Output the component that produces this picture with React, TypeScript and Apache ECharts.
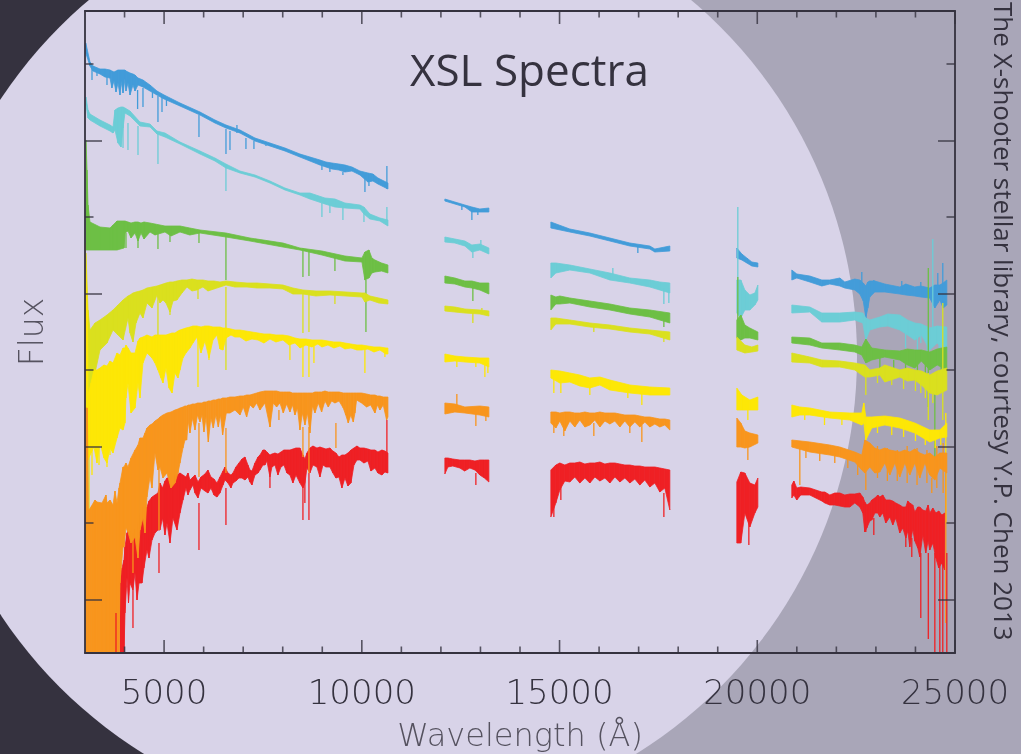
import React, { useEffect, useRef } from "react";
import * as echarts from "echarts";

type Row = number[];

const xMajor = [5000, 10000, 15000, 20000, 25000];
const xMinor = [4000, 6000, 7000, 8000, 9000, 11000, 12000, 13000, 14000, 16000, 17000, 18000, 19000, 21000, 22000, 23000, 24000];
const yMajor = [53, 206, 359, 512];
const yMinor = [130, 283, 436, 589];

// Each row: wavelength, upper flux, lower flux of the spectrum band
const blueBand: Row[][] = [
  [[3020,610,600],[3126,591,587],[3202,587,582],[3379,584,579],[3506,584,576],[3632,583,575],[3680,582,565],[3733,581,572],[3784,582,561],[3834,583,570],[3885,583,558],[3910,583,572],[3961,583,560],[4011,583,574],[4036,582,562],[4087,581,570],[4138,580,558],[4213,579,568],[4264,578,562],[4340,575,568],[4466,573,566],[4643,568,562],[4820,562,558],[5000,558,554],[5402,550,547],[5908,541,538],[6286,533,530],[6565,528,525],[6919,523,520],[7298,515,512],[7677,510,507],[8056,505,502],[8435,499,496],[8688,496,492],[8941,493,488],[9093,491,486],[9244,490,484],[9421,489,483],[9573,488,481],[9750,486,482],[9952,482,478],[10154,480,471],[10280,479,472],[10407,475,469],[10660,470,464]],
  [[12100,454,452],[12353,451,449],[12606,448,446],[12783,446,441],[12985,444,441],[13213,445,441]],
  [[14780,431,425],[15260,424,421],[15766,420,417],[16272,415,412],[16777,410,407],[17283,407,404],[17410,404,401],[17789,407,402]],
  [[19483,405,395],[19610,399,393],[19736,395,390],[19863,391,387],[20015,390,386]],
  [[20873,383,373],[21000,379,375],[21328,377,371],[21632,373,367],[21834,373,369],[22087,375,367],[22213,371,365],[22466,374,363],[22593,373,359],[22680,370,352],[22745,367,335],[22796,371,345],[22846,372,356],[22973,372,361],[23225,369,361],[23604,366,359],[23755,369,358],[23983,366,357],[24135,367,356],[24362,365,355],[24490,368,345],[24616,368,353],[24700,370,345],[24793,373,348]],
];
// Each row: wavelength, flux at one end and flux at the other end of a narrow line
const blueLines: Row[] = [[3177,587,573],[3303,582,577],[3556,578,568],[4330,563,544],[4466,565,546],[4706,561,555],[4845,557,531],[4947,556,541],[5060,553,547],[5882,538,516],[6565,524,499],[6666,522,503],[6842,520,528],[7070,515,504],[7272,512,504],[7576,508,507],[8991,488,483],[9193,485,481],[9522,481,478],[10079,478,461],[10180,474,467],[10634,487,464],[12530,447,443],[12783,441,433],[12934,442,438],[16980,407,400],[22643,381,365],[22947,373,362],[23654,372,360],[24135,371,358],[24565,380,350],[24691,390,350]];

const cyanBand: Row[][] = [
  [[3025,556,548],[3076,543,535],[3126,539,533],[3379,533,527],[3632,528,522],[3708,526,520],[3758,543,523],[3834,545,510],[3910,546,506],[3961,546,525],[4011,545,540],[4138,542,537],[4390,531,527],[4643,529,526],[4820,522,519],[5022,520,516],[5402,511,509],[5908,502,499],[6286,495,492],[6564,489,485],[6918,482,480],[7298,478,476],[7677,472,470],[8056,465,463],[8435,460,458],[8688,460,454],[9067,455,449],[9320,454,446],[9573,450,445],[9952,448,444],[10053,446,439],[10205,439,434],[10458,435,432],[10660,433,427]],
  [[12100,416,411],[12353,414,410],[12606,412,407],[12783,408,401],[12985,409,403],[13213,405,399]],
  [[14780,390,375],[14906,390,380],[15260,388,383],[15766,384,380],[16272,380,373],[16777,375,370],[17283,373,366],[17536,371,363],[17789,370,360]],
  [[19483,373,340],[19584,373,335],[19686,363,343],[19812,358,343],[19939,360,348],[20015,368,353]],
  [[20873,348,340],[21328,346,341],[21632,340,331],[22087,340,331],[22466,341,333],[22669,340,330],[22745,335,313],[22846,333,323],[23098,336,326],[23300,339,327],[23604,338,323],[23800,333,318],[23983,330,313],[24150,329,318],[24362,325,303],[24550,327,310],[24793,326,300]],
];
const cyanLines: Row[] = [[3961,530,505],[4087,530,503],[4340,527,498],[4845,520,489],[6564,486,462],[8991,450,436],[9193,449,440],[9522,447,433],[10054,440,431],[10634,446,428],[12808,405,395],[13010,413,403],[16348,385,375],[17638,365,349],[17764,365,350],[19508,446,373],[23750,320,305],[24050,316,300],[24135,325,310],[24300,310,295],[24438,414,323],[24600,310,290]];

const greenBand: Row[][] = [
  [[3025,513,403],[3051,483,403],[3076,448,403],[3126,431,403],[3379,426,403],[3632,425,403],[3708,428,403],[3809,432,403],[3986,432,405],[4011,432,420],[4088,431,422],[4164,430,415],[4264,431,420],[4340,431,412],[4416,430,420],[4492,431,414],[4643,430,421],[4770,429,418],[5022,427,421],[5175,427,417],[5402,427,421],[5650,425,418],[5908,423,420],[6564,420,416],[7171,415,412],[8005,410,406],[8435,405,403],[8991,402,398],[9573,397,392],[10003,395,391],[10078,401,373],[10180,403,375],[10255,395,380],[10331,393,381],[10500,390,382],[10660,388,380]],
  [[12100,377,370],[12353,375,369],[12606,372,366],[12783,372,365],[12985,370,363],[13213,370,359]],
  [[14780,358,343],[14906,356,349],[15007,357,349],[15260,355,350],[15766,352,346],[16272,349,343],[16777,345,339],[17283,343,336],[17789,340,330]],
  [[19483,333,315],[19584,338,313],[19686,328,315],[19812,325,315],[20015,321,313]],
  [[20873,316,310],[21328,315,308],[21632,310,305],[22087,310,303],[22466,308,301],[22643,306,298],[22745,314,290],[22896,305,293],[23225,303,296],[23604,302,293],[23800,304,288],[23983,303,285],[24150,303,292],[24362,301,283],[24550,304,288],[24793,306,283]],
];
const greenLines: Row[] = [[4036,420,405],[4340,420,405],[4845,421,404],[5149,421,411],[5882,421,410],[6564,418,373],[8511,405,376],[8663,403,377],[9320,398,382],[10104,373,321],[12808,365,352],[17638,335,326],[19508,376,320],[23100,295,285],[23450,293,283],[23750,290,278],[24050,288,272],[24250,288,268],[24325,385,246],[24490,263,193],[24650,290,262]];

const limeBand: Row[][] = [
  [[3025,400,253],[3076,343,258],[3126,323,266],[3253,330,280],[3379,333,303],[3556,338,310],[3708,343,323],[3834,348,318],[3961,353,313],[4087,357,335],[4138,358,320],[4213,360,311],[4290,361,330],[4390,362,340],[4466,363,335],[4567,365,350],[4694,366,345],[4820,367,358],[4896,368,350],[4972,369,353],[5048,370,350],[5149,371,341],[5225,371,352],[5326,372,353],[5452,373,360],[5579,373,366],[5705,374,362],[5831,373,363],[5983,373,366],[6109,372,362],[6261,372,364],[6413,371,366],[6565,372,368],[6792,371,366],[7095,370,366],[7350,370,365],[7677,369,365],[8005,368,364],[8258,365,359],[8511,363,359],[8840,362,357],[9193,362,358],[9600,361,357],[10003,360,356],[10078,360,351],[10205,357,353],[10430,355,350],[10660,353,349]],
  [[12100,347,342],[12353,346,341],[12606,344,340],[12985,343,339],[13213,342,337]],
  [[14780,335,323],[14906,335,329],[15260,333,329],[15766,330,326],[16272,328,324],[16777,325,321],[17283,323,319],[17789,321,313]],
  [[19483,316,303],[19686,308,300],[19863,306,301],[20015,308,302]],
  [[20873,300,291],[21328,296,290],[21632,293,286],[22087,292,286],[22466,290,283],[22720,288,276],[22846,283,276],[23098,285,278],[23225,288,271],[23604,283,276],[23800,285,272],[23983,283,273],[24150,282,268],[24362,278,260],[24550,282,258],[24793,285,263]],
];
const limeLines: Row[] = [[3101,300,113],[4845,358,318],[5149,345,338],[5857,365,354],[6564,366,283],[8511,359,320],[8663,359,321],[9320,358,349],[12808,340,330],[13036,345,340],[15867,328,321],[17638,321,311],[22745,280,258],[23040,280,270],[23400,278,268],[23700,277,264],[24000,275,262],[24135,280,260],[24250,270,255],[24325,280,233],[24440,275,250],[24691,350,233]];

const yellowBand: Row[][] = [
  [[3005,410,200],[3060,340,195],[3076,258,193],[3151,270,200],[3228,283,206],[3303,283,190],[3379,285,210],[3480,288,195],[3556,287,190],[3632,292,205],[3708,290,200],[3809,300,215],[3885,298,225],[3961,305,223],[4011,305,230],[4036,308,255],[4087,305,270],[4163,300,240],[4264,300,245],[4340,312,270],[4390,315,255],[4466,316,290],[4567,318,300],[4694,316,295],[4770,318,290],[4845,318,283],[4921,318,275],[4972,318,270],[5048,318,285],[5124,319,265],[5200,320,260],[5275,320,280],[5351,322,275],[5402,323,283],[5477,324,295],[5553,325,300],[5654,326,305],[5730,327,310],[5831,327,316],[5933,326,300],[6033,327,312],[6135,327,295],[6236,326,313],[6337,326,318],[6413,326,304],[6489,325,303],[6565,325,315],[6691,324,318],[6792,323,316],[6918,323,316],[7070,322,312],[7222,321,314],[7374,320,313],[7525,319,310],[7677,319,314],[7828,318,311],[8005,318,313],[8157,317,308],[8309,315,310],[8435,314,305],[8587,314,308],[8738,313,306],[8890,313,309],[8991,313,306],[9143,312,308],[9294,311,305],[9446,311,307],[9573,310,304],[9725,309,305],[9877,308,303],[10003,308,303],[10154,307,304],[10306,306,301],[10458,306,303],[10610,305,299],[10660,305,299]],
  [[12100,299,291],[12353,297,292],[12606,296,291],[12985,295,290],[13213,295,286]],
  [[14780,283,275],[15007,282,270],[15260,280,271],[15513,278,267],[15766,275,265],[16020,276,268],[16272,273,263],[16777,268,260],[17283,266,258],[17789,265,258]],
  [[19483,265,243],[19610,258,243],[19812,253,243],[20015,256,243]],
  [[20873,248,236],[21076,246,238],[21328,245,238],[21834,241,235],[22340,240,233],[22643,240,228],[22694,250,230],[22745,236,213],[22896,236,225],[23225,237,228],[23604,235,225],[23983,230,220],[24362,223,211],[24616,223,215],[24793,230,216]],
];
const yellowLines: Row[] = [[3177,210,178],[3354,210,188],[3556,210,186],[3632,210,198],[5857,320,266],[6135,325,293],[8182,316,293],[8511,312,276],[8663,312,276],[8789,312,290],[10078,306,280],[10584,305,296],[12403,294,286],[12884,294,286],[13112,290,276],[13188,290,280],[14856,278,260],[15033,275,260],[15766,270,258],[16727,265,255],[17081,262,248],[19762,245,233],[21200,240,233],[21700,236,228],[22140,235,228],[23040,232,220],[23400,232,218],[23700,228,216],[24000,225,212],[24250,222,208],[24500,220,205],[24640,222,208],[24767,240,130]];

const redBand: Row[][] = [
  [[3885,70,0],[3935,85,0],[3986,93,0],[4011,106,40],[4062,120,75],[4100,123,50],[4138,120,70],[4213,125,63],[4264,123,80],[4315,123,53],[4366,135,70],[4441,146,70],[4490,140,85],[4567,146,103],[4618,152,95],[4694,156,113],[4769,158,120],[4845,160,123],[4896,170,123],[4960,165,135],[5022,172,118],[5073,175,130],[5149,175,110],[5225,177,135],[5326,178,123],[5402,180,140],[5477,178,153],[5553,176,165],[5604,180,158],[5654,173,163],[5730,176,168],[5781,178,160],[5857,171,155],[5933,176,165],[6033,179,162],[6109,183,160],[6185,176,165],[6261,174,158],[6337,170,156],[6413,176,160],[6489,182,168],[6539,186,173],[6615,180,170],[6690,178,165],[6741,180,170],[6817,186,172],[6893,190,175],[6969,194,175],[7045,196,173],[7120,188,176],[7171,183,171],[7222,182,168],[7298,190,178],[7374,196,180],[7424,198,183],[7500,203,188],[7550,203,188],[7601,201,192],[7677,198,176],[7727,199,186],[7803,200,188],[7879,199,178],[7955,201,186],[8030,203,188],[8106,203,180],[8182,203,178],[8258,204,170],[8334,205,178],[8435,205,170],[8511,198,165],[8562,194,170],[8612,200,185],[8688,205,180],[8764,207,188],[8865,205,186],[8941,206,176],[9017,205,188],[9093,204,186],[9193,205,186],[9269,202,180],[9345,200,175],[9421,196,176],[9497,198,165],[9573,198,175],[9649,200,167],[9725,203,170],[9801,205,188],[9877,207,193],[9952,205,193],[10053,205,190],[10154,204,192],[10230,203,182],[10331,203,185],[10407,201,180],[10508,203,178],[10584,202,181],[10660,200,180]],
  [[12100,195,179],[12176,195,186],[12300,194,187],[12479,193,185],[12600,193,182],[12732,193,185],[12860,192,183],[12985,193,178],[13100,193,175],[13213,193,171]],
  [[14780,183,136],[14906,188,150],[15007,190,163],[15133,188,172],[15260,190,171],[15386,190,176],[15513,191,170],[15640,189,175],[15766,190,170],[15893,190,176],[16020,191,172],[16146,189,175],[16272,190,170],[16399,190,176],[16525,189,171],[16651,188,175],[16777,188,170],[16904,187,174],[17030,187,168],[17157,186,173],[17283,186,166],[17410,186,170],[17536,185,161],[17662,184,165],[17789,183,143]],
  [[19483,171,110],[19584,181,110],[19686,180,140],[19812,170,126],[19939,168,140],[20015,175,146]],
  [[20873,168,155],[20925,172,158],[20999,165,153],[21100,166,158],[21328,165,158],[21480,163,155],[21632,161,152],[21708,161,150],[21834,158,148],[21960,160,148],[22087,160,147],[22213,158,146],[22340,159,146],[22466,159,150],[22593,160,146],[22669,156,140],[22720,151,121],[22770,148,125],[22846,150,132],[22896,153,133],[22973,155,140],[23048,158,140],[23098,156,136],[23174,158,140],[23250,153,130],[23352,153,136],[23427,152,128],[23503,150,135],[23604,148,120],[23680,146,125],[23756,146,115],[23806,152,122],[23857,150,106],[23932,148,124],[23983,141,112],[24059,146,105],[24110,146,96],[24185,143,118],[24260,142,100],[24320,148,112],[24362,140,103],[24440,145,110],[24515,140,95],[24590,142,85],[24666,138,90],[24742,140,83]],
];
const redLines: Row[] = [[3784,40,0],[4213,63,25],[4871,110,80],[5882,150,103],[6564,165,128],[7677,176,165],[8511,175,133],[8663,180,133],[8560,170,150],[10634,233,180],[12884,180,168],[14856,160,136],[15033,170,153],[17638,160,136],[19559,130,110],[19787,140,108],[22745,125,121],[22947,135,118],[23756,122,106],[23907,115,96],[24135,100,35],[24325,100,14],[24490,100,0],[24616,100,0],[24691,100,0],[24793,100,0]];

const orangeBand: Row[][] = [
  [[3005,245,0],[3060,245,0],[3085,143,0],[3101,143,0],[3165,147,0],[3253,153,0],[3303,151,0],[3430,150,0],[3530,158,0],[3556,150,0],[3632,153,0],[3708,148,0],[3758,162,0],[3809,150,0],[3860,165,0],[3885,170,70],[3961,186,106],[3986,186,106],[4036,190,125],[4087,186,121],[4163,195,110],[4264,203,116],[4340,208,95],[4390,215,123],[4466,215,135],[4517,220,120],[4567,225,156],[4643,228,176],[4694,229,165],[4769,232,200],[4845,234,183],[4896,236,186],[4972,238,175],[5073,240,180],[5174,241,165],[5275,243,170],[5351,244,180],[5402,245,190],[5477,246,205],[5528,247,213],[5570,247,213],[5612,248,232],[5654,248,220],[5718,249,235],[5781,249,223],[5844,250,238],[5907,250,231],[5958,250,238],[6008,251,221],[6063,251,236],[6118,252,211],[6181,252,235],[6244,253,225],[6308,253,238],[6371,254,226],[6425,254,238],[6480,255,218],[6573,255,240],[6666,256,240],[6792,256,243],[6918,257,238],[7003,257,246],[7087,258,236],[7171,258,248],[7256,259,245],[7340,260,250],[7424,261,243],[7550,262,250],[7677,262,226],[7761,262,250],[7845,262,246],[7930,261,250],[8014,261,240],[8098,261,249],[8182,261,241],[8246,260,248],[8309,260,238],[8372,260,245],[8435,260,223],[8498,260,240],[8562,260,228],[8625,260,240],[8688,260,220],[8752,260,247],[8815,261,240],[8899,261,250],[8983,261,241],[9068,262,252],[9152,261,246],[9236,261,252],[9320,261,250],[9425,261,252],[9531,260,245],[9594,260,238],[9657,260,230],[9720,260,238],[9784,260,231],[9826,260,240],[9868,260,253],[9994,260,250],[10120,259,246],[10225,258,248],[10331,258,240],[10395,257,248],[10458,257,243],[10542,256,248],[10626,256,233],[10660,256,236]],
  [[12100,250,239],[12353,249,241],[12606,246,240],[12985,247,238],[13213,246,236]],
  [[14780,241,230],[14906,241,225],[15007,240,232],[15133,241,222],[15260,241,232],[15386,240,226],[15513,240,233],[15640,241,226],[15766,240,228],[15893,240,233],[16020,241,226],[16146,240,232],[16272,240,229],[16399,240,232],[16525,239,226],[16651,238,232],[16777,238,226],[16904,238,231],[17030,237,226],[17157,236,231],[17283,236,226],[17410,235,229],[17536,234,226],[17662,234,228],[17789,233,223]],
  [[19483,235,206],[19584,230,206],[19686,222,205],[19812,220,206],[20015,218,210]],
  [[20873,213,206],[21328,211,201],[21834,208,198],[22087,206,196],[22466,201,191],[22643,198,183],[22720,213,180],[22846,210,186],[22973,205,180],[23098,203,181],[23225,205,190],[23352,203,178],[23478,202,190],[23604,201,176],[23730,203,190],[23857,201,178],[23983,204,190],[24110,200,175],[24236,198,190],[24362,200,178],[24490,196,173],[24616,200,185],[24793,200,180]],
];
const orangeLines: Row[] = [[4213,120,80],[4871,186,123],[5882,230,176],[6564,225,180],[7677,240,226],[7904,243,233],[8511,226,196],[8663,226,180],[9345,230,205],[12403,259,245],[12884,240,227],[13137,240,232],[14856,232,220],[15108,232,217],[15867,230,217],[16777,228,220],[17081,228,211],[19762,208,193],[21076,206,168],[21230,205,195],[21580,204,192],[21960,200,190],[22290,200,185],[22540,195,178],[22745,182,163],[23040,207,175],[23290,205,172],[23540,203,172],[23790,207,170],[24040,205,168],[24290,203,170],[24413,175,160],[24540,207,165],[24700,210,160],[24767,200,30]];

const palette = {
  blue: "#439cd9",
  cyan: "#6ccdd6",
  green: "#6dbf45",
  lime: "#dae01e",
  yellow: "#fde706",
  red: "#ef2024",
  orange: "#f8951d",
};

const ink = "#35323f";
const tickInk = "rgba(53,50,63,0.8)";
const thinFont = "'DejaVu Sans'";

function bandSeries(segs: Row[][], color: string) {
  const rows = segs.flatMap((s, k) => s.map((r) => [...r, k]));
  return {
    type: "custom",
    silent: true,
    clip: true,
    encode: { x: 0, y: 1 },
    data: rows,
    renderItem: (p: any, api: any) => {
      const a = rows[p.dataIndex];
      const b = rows[p.dataIndex + 1];
      if (!b || b[3] !== a[3]) return null;
      const pts = [
        api.coord([a[0], a[1]]),
        api.coord([b[0], b[1]]),
        api.coord([b[0], b[2]]),
        api.coord([a[0], a[2]]),
      ];
      return { type: "polygon", shape: { points: pts }, style: { fill: color, stroke: color, lineWidth: 0.8 } };
    },
  };
}

function lineSeries(rows: Row[], color: string) {
  return {
    type: "custom",
    silent: true,
    clip: true,
    encode: { x: 0, y: 1 },
    data: rows,
    renderItem: (p: any, api: any) => {
      const r = rows[p.dataIndex];
      const a = api.coord([r[0], r[1]]);
      const b = api.coord([r[0], r[2]]);
      return { type: "line", shape: { x1: a[0], y1: a[1], x2: b[0], y2: b[1] }, style: { stroke: color, lineWidth: 1.3 } };
    },
  };
}

// Inward tick marks on all four sides of the frame, placed by the axis scales.
function tickSeries(values: number[], dim: "x" | "y", len: number) {
  return {
    type: "custom",
    silent: true,
    clip: false,
    z: 12,
    encode: dim === "x" ? { x: 0 } : { y: 0 },
    data: values.map((v) => [v]),
    renderItem: (p: any, api: any) => {
      const v = values[p.dataIndex];
      const g = p.coordSys;
      const mk = (x1: number, y1: number, x2: number, y2: number) => ({
        type: "line",
        shape: { x1, y1, x2, y2 },
        style: { stroke: tickInk, lineWidth: 1.6 },
      });
      if (dim === "x") {
        const x = api.coord([v, 0])[0];
        return { type: "group", children: [mk(x, g.y, x, g.y + len), mk(x, g.y + g.height, x, g.y + g.height - len)] };
      }
      const y = api.coord([3000, v])[1];
      return { type: "group", children: [mk(g.x, y, g.x + len, y), mk(g.x + g.width, y, g.x + g.width - len, y)] };
    },
  };
}

export default function App() {
  const ref = useRef<HTMLDivElement>(null);
  useEffect(() => {
    document.body.style.margin = "0";
    const chart = echarts.init(ref.current!, undefined, { renderer: "svg" });
    const frame = { show: true, onZero: false, lineStyle: { color: ink, width: 1.8 } };
    chart.setOption({
      animation: false,
      grid: { left: 85, right: 66, top: 11, bottom: 101, containLabel: false, outerBoundsMode: "none" },
      title: {
        text: "XSL Spectra",
        left: 405,
        top: 42,
        textStyle: { color: ink, fontFamily: "Open Sans", fontWeight: 400, fontSize: 44 },
      },
      graphic: [
        { type: "rect", z: -20, shape: { x: 0, y: 0, width: 390, height: 754 }, style: { fill: "#35323f" } },
        { type: "rect", z: -20, shape: { x: 390, y: 0, width: 631, height: 754 }, style: { fill: "#a9a6b8" } },
        { type: "circle", z: -19, shape: { cx: 390, cy: 357, r: 467 }, style: { fill: "#d8d3e8" } },
        {
          type: "text",
          z: 20,
          x: 1004,
          y: 2,
          rotation: -Math.PI / 2,
          style: {
            text: "The X-shooter stellar library, courtesy Y.P. Chen 2013",
            fill: ink,
            font: "400 26px 'Open Sans'",
            textAlign: "left",
            textVerticalAlign: "middle",
          },
        },
      ],
      xAxis: [
        {
          type: "value",
          min: 3000,
          max: 25000,
          z: 10,
          position: "bottom",
          splitLine: { show: false },
          axisLine: frame,
          axisTick: { show: false },
          axisLabel: {
            show: true,
            customValues: xMajor,
            margin: 22,
            color: ink,
            fontFamily: thinFont,
            fontWeight: 200,
            fontSize: 34,
            formatter: (v: number) => String(v),
          },
          name: "Wavelength (Å)",
          nameLocation: "center",
          nameGap: 66,
          nameTextStyle: { color: "#55525f", fontFamily: thinFont, fontWeight: 200, fontSize: 32 },
        },
        {
          type: "value",
          min: 3000,
          max: 25000,
          z: 10,
          position: "top",
          splitLine: { show: false },
          axisLine: frame,
          axisTick: { show: false },
          axisLabel: { show: false },
        },
      ],
      yAxis: [
        {
          type: "value",
          min: 0,
          max: 642,
          z: 10,
          position: "left",
          splitLine: { show: false },
          axisLine: frame,
          axisTick: { show: false },
          axisLabel: { show: false },
          name: "Flux",
          nameLocation: "center",
          nameGap: 37,
          nameTextStyle: { color: "#55525f", fontFamily: thinFont, fontWeight: 200, fontSize: 33 },
        },
        {
          type: "value",
          min: 0,
          max: 642,
          z: 10,
          position: "right",
          splitLine: { show: false },
          axisLine: frame,
          axisTick: { show: false },
          axisLabel: { show: false },
        },
      ],
      series: [
        bandSeries(blueBand, palette.blue),
        lineSeries(blueLines, palette.blue),
        bandSeries(cyanBand, palette.cyan),
        lineSeries(cyanLines, palette.cyan),
        bandSeries(greenBand, palette.green),
        lineSeries(greenLines, palette.green),
        bandSeries(limeBand, palette.lime),
        lineSeries(limeLines, palette.lime),
        bandSeries(yellowBand, palette.yellow),
        lineSeries(yellowLines, palette.yellow),
        bandSeries(redBand, palette.red),
        bandSeries(orangeBand, palette.orange),
        lineSeries(orangeLines, palette.orange),
        lineSeries(redLines, palette.red),
        tickSeries(xMajor, "x", 13),
        tickSeries(xMinor, "x", 6.5),
        tickSeries(yMajor, "y", 17),
        tickSeries(yMinor, "y", 8.5),
      ],
    });
    return () => chart.dispose();
  }, []);
  return <div ref={ref} style={{ position: "fixed", left: 0, top: 0, width: 1021, height: 754 }} />;
}
